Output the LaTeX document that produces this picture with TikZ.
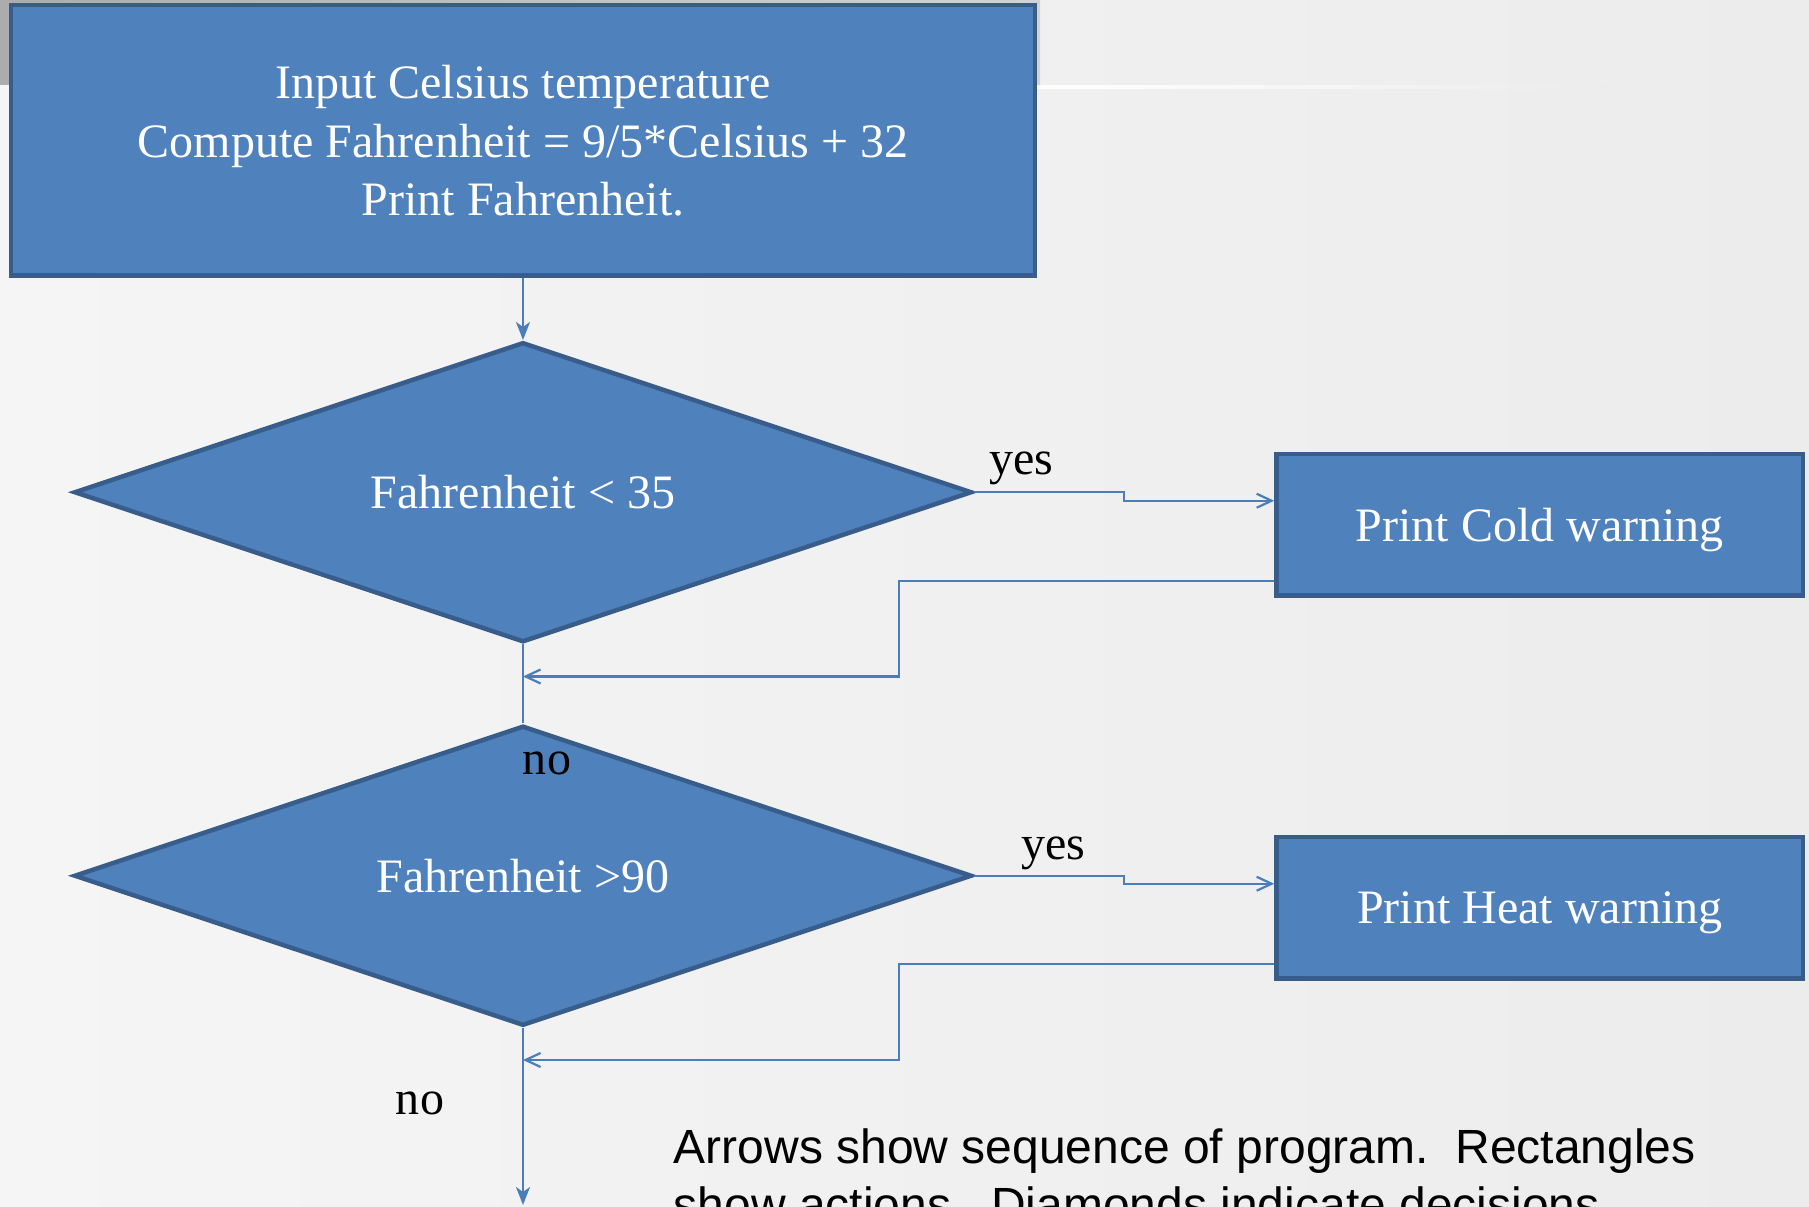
\documentclass[tikz,border=0pt]{standalone}
\usepackage{fontspec}
\setmainfont{Liberation Serif}
\newfontfamily\notefont{Liberation Sans}
\usetikzlibrary{shapes.geometric, arrows.meta, positioning, calc}
\definecolor{boxblue}{RGB}{79,129,189}
\definecolor{boxedge}{RGB}{56,93,138}
\definecolor{flowblue}{RGB}{74,126,187}
\definecolor{slidegray}{RGB}{236,236,236}
\definecolor{slidelight}{RGB}{245,245,245}

\begin{document}
\begin{tikzpicture}[node distance=0.62cm, font=\fontsize{13.66}{16.64}\selectfont]
    % Styles
    \tikzstyle{block} = [rectangle, draw=boxedge, fill=boxblue, line width=0.045cm,
        text=white, align=center, inner sep=0pt, text depth=0pt]
    \tikzstyle{decision} = [diamond, aspect=2.95, draw=boxedge, fill=boxblue, line width=0.045cm,
        text=white, inner sep=0pt, minimum width=8.98cm, minimum height=3.0cm]
    \tikzstyle{flow} = [line width=0.022cm, flowblue]
    \tikzstyle{arrow} = [flow, -{Stealth[length=0.18cm, width=0.14cm, inset=0.05cm]}]
    \tikzstyle{branch} = [flow, -{Straight Barb[length=0.15cm, width=0.14cm]}]
    \tikzstyle{lbl} = [anchor=base, inner sep=0pt]
    \tikzstyle{note} = [anchor=base west, inner sep=0pt, font=\notefont\fontsize{13.66}{16.64}\selectfont]

    % Slide background
    \useasboundingbox (0,0) rectangle (18.09,-12.07);
    \clip (0,0) rectangle (18.09,-12.07);
    \shade [left color=slidelight, right color=slidegray] (0,0) rectangle (18.09,-12.07);
    \shade [left color=gray!65, right color=gray!35] (0,0) rectangle (10.4,-0.85);
    \shade [left color=white, right color=slidegray] (10.37,-0.855) rectangle (16.1,-0.885);

    % Main column
    \node [block, minimum width=10.235cm, minimum height=2.705cm] (input) at (5.23,-1.405)
        {Input Celsius temperature\\Compute Fahrenheit = 9/5*Celsius + 32\\Print Fahrenheit.};
    \node [decision, below=of input] (lowtest) {Fahrenheit < 35};
    \node [decision, below=0.79cm of lowtest] (hightest) {Fahrenheit >90};

    % Warnings (right column)
    \node [block, minimum width=5.265cm, minimum height=1.415cm, right=3.0cm of lowtest,
        yshift=-0.325cm] (coldmsg) {Print Cold warning};
    \node [block, minimum width=5.265cm, minimum height=1.415cm, below=2.37cm of coldmsg]
        (heatmsg) {Print Heat warning};

    \coordinate (join1) at ([yshift=-0.32cm]lowtest.south);
    \coordinate (join2) at ([yshift=-0.32cm]hightest.south);
    \coordinate (exit) at ([yshift=-1.77cm]hightest.south);
    \coordinate (step1) at ($(lowtest.east)!0.5!(coldmsg.west)$);
    \coordinate (step2) at ($(hightest.east)!0.5!(heatmsg.west)$);

    % Arrows
    \draw [arrow] (input) -- (lowtest);
    \draw [branch] (lowtest.east) -- (step1 |- lowtest.east) |- ([yshift=0.24cm]coldmsg.west);
    \draw [branch] ([yshift=-0.56cm]coldmsg.west) -- ++(-3.75,0) |- (join1);
    \draw [flow] (lowtest) -- (hightest);
    \draw [branch] (hightest.east) -- (step2 |- hightest.east) |- ([yshift=0.24cm]heatmsg.west);
    \draw [branch] ([yshift=-0.56cm]heatmsg.west) -- ++(-3.75,0) |- (join2);
    \draw [arrow] (hightest) -- (exit);

    % Labels
    \node [lbl] (yes1) at ([xshift=0.47cm, yshift=0.175cm]lowtest.east) {yes};
    \node [lbl] (yes2) at ([xshift=0.79cm, yshift=0.16cm]hightest.east) {yes};
    \node [lbl] (no1) at ([xshift=0.24cm, yshift=-0.51cm]hightest.north) {no};
    \node [lbl] (no2) at ([xshift=-1.03cm, yshift=-0.87cm]hightest.south) {no};

    % Note
    \node [note] (note1) at (6.73,-11.63) {Arrows show sequence of program.~~Rectangles};
    \node [note] (note2) at ([yshift=-0.585cm]note1.base west) {show actions.~~Diamonds indicate decisions.};
\end{tikzpicture}
\end{document}
